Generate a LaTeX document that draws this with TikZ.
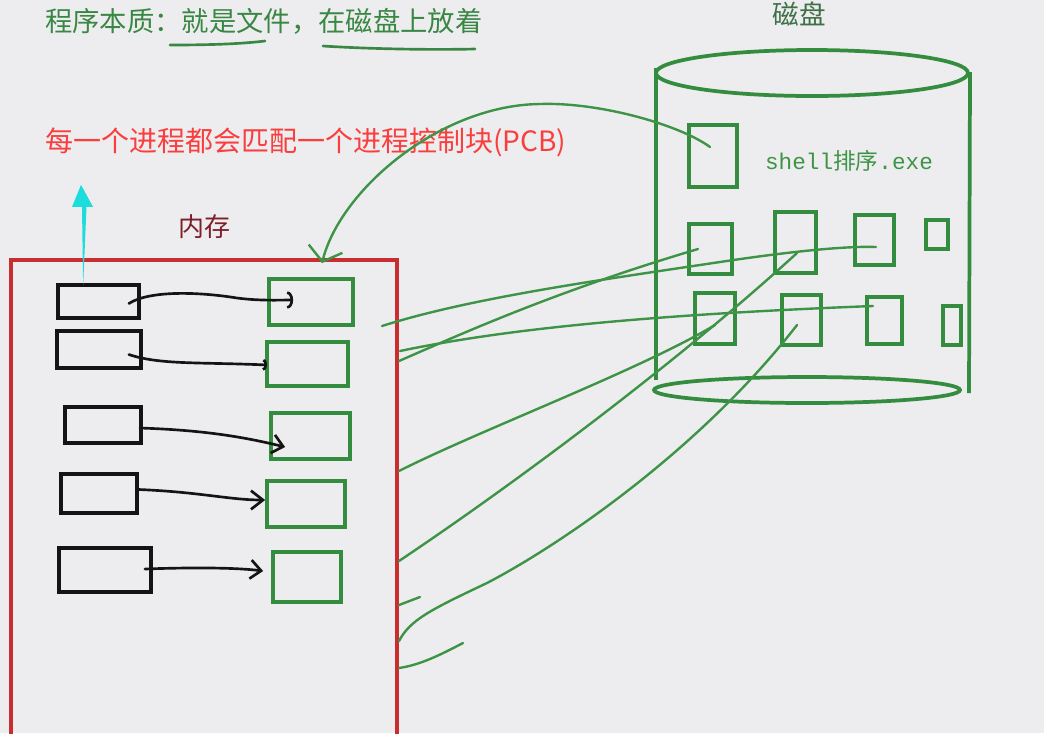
\documentclass[tikz,border=0pt]{standalone}
\usepackage{fontspec}
\newfontfamily\cjk{Noto Sans CJK SC}
\newfontfamily\monof{Liberation Mono}
\usetikzlibrary{arrows.meta,calc,fit}
\definecolor{bg}{RGB}{237,237,239}
\definecolor{tgreen}{RGB}{58,135,68}
\definecolor{dgreen}{RGB}{52,140,62}
\definecolor{lgreen}{RGB}{62,148,70}
\definecolor{diskgray}{RGB}{62,112,72}
\definecolor{pcbred}{RGB}{250,62,62}
\definecolor{memred}{RGB}{200,45,48}
\definecolor{maroon}{RGB}{125,32,42}
\definecolor{cyanarrow}{RGB}{28,220,220}
\definecolor{ink}{RGB}{20,20,20}
\begin{document}
\begin{tikzpicture}[x=0.75pt,y=-0.75pt,
  blackbox/.style={draw=ink,line width=2.8pt,inner sep=0pt},
  greenbox/.style={draw=dgreen,line width=2.8pt,inner sep=0pt},
  diskbox/.style={draw=dgreen,line width=2.8pt,inner sep=0pt},
  cyl/.style={draw=dgreen,line width=2.8pt},
  ptrline/.style={draw=ink,line width=2pt,line cap=round},
  linkline/.style={draw=lgreen,line width=1.8pt,line cap=round},
  lbl/.style={inner sep=0pt},
]
\fill[bg] (0,0) rectangle (1044,733);
\useasboundingbox (0,0) rectangle (1044,733);

% ---------- texts ----------
\node[lbl,anchor=west,text=tgreen,font=\cjk\fontsize{20.5}{22}\selectfont] (title) at (45,21) {程序本质：就是文件，在磁盘上放着};
\draw[tgreen,line width=2pt,line cap=round] (170,45) .. controls (210,45) and (240,44) .. (265,41);
\draw[tgreen,line width=2pt,line cap=round] (323,46) .. controls (370,49) and (430,50) .. (475,49);

\node[lbl,text=diskgray,font=\cjk\fontsize{20}{22}\selectfont] (disklbl) at (799,14) {磁盘};
\node[lbl,anchor=west,text=pcbred,font=\cjk\fontsize{21}{23}\selectfont] (pcb) at (45,142) {每一个进程都会匹配一个进程控制块(PCB)};
\node[lbl,text=maroon,font=\cjk\fontsize{19.5}{21}\selectfont] (memlbl) at (204,227) {内存};

% ---------- disk (cylinder) ----------
\draw[cyl] (812,73) ellipse [x radius=156,y radius=23];
\draw[cyl] (656,68) -- (656,380);
\draw[cyl] (970,72) -- (969,393);
\draw[cyl] (807,390) ellipse [x radius=153,y radius=13];

\node[diskbox,fit={(689,125)(737,187)}] (dA) {};
\node[lbl,text=lgreen,font=\fontsize{17}{19}\selectfont] (exe) at (849,161) {\monof shell\cjk 排序\monof .exe};

\node[diskbox,fit={(689,224)(732,274)}] (r2a) {};
\node[diskbox,fit={(775,212)(816,273)}] (r2b) {};
\node[diskbox,fit={(855,215)(894,265)}] (r2c) {};
\node[diskbox,fit={(926,220)(948,249)}] (r2d) {};
\node[diskbox,fit={(695,293)(735,344)}] (r3a) {};
\node[diskbox,fit={(782,295)(821,345)}] (r3b) {};
\node[diskbox,fit={(867,297)(902,344)}] (r3c) {};
\node[diskbox,fit={(943,306)(961,345)}] (r3d) {};

% ---------- memory ----------
\node[draw=memred,line width=3pt,inner sep=0pt,fit={(11,260)(397,745)}] (mem) {};

\node[blackbox,fit={(58,285)(139,318)}] (b1) {};
\node[blackbox,fit={(57,331)(141,368)}] (b2) {};
\node[blackbox,fit={(65,407)(141,443)}] (b3) {};
\node[blackbox,fit={(61,474)(137,513)}] (b4) {};
\node[blackbox,fit={(59,548)(151,592)}] (b5) {};

\node[greenbox,fit={(269,279)(353,325)}] (g1) {};
\node[greenbox,fit={(267,342)(348,386)}] (g2) {};
\node[greenbox,fit={(271,413)(350,459)}] (g3) {};
\node[greenbox,fit={(267,481)(345,527)}] (g4) {};
\node[greenbox,fit={(273,552)(341,602)}] (g5) {};

% ---------- cyan arrow (b1 -> PCB text) ----------
\coordinate (cyFoot) at ($(b1.north west)+(27,3)$);
\coordinate (cyTip) at ($(pcb.south west)+(36,28)$);
\fill[cyanarrow] (cyTip) -- ($(cyTip)+(12,22)$) -- ($(cyTip)+(5.5,22)$) -- (cyFoot)
  -- ($(cyTip)+(1,22)$) -- ($(cyTip)+(-9,22)$) -- cycle;

% ---------- black pointers (PCB -> process memory) ----------
\draw[ptrline,-{Arc Barb[length=4.5pt,width=13pt]}] ($(b1.east)+(-12,2)$)
  .. controls (150,290) and (200,292) .. (237,298) .. controls (260,301) and (280,300) .. ($(g1.west)+(26,-2)$);
\draw[ptrline,-{Arc Barb[length=3pt,width=9pt]}] ($(b2.east)+(-14,5)$)
  .. controls (160,365) and (200,362) .. ($(g2.west)+(2,1)$);
\draw[ptrline,-{Straight Barb[length=8pt,width=14pt]}] ($(b3.east)+(-3,3)$)
  .. controls (200,430) and (240,436) .. ($(g3.west)+(16,11)$);
\draw[ptrline,-{Straight Barb[length=9pt,width=14pt]}] ($(b4.east)+(0,-4)$)
  .. controls (200,492) and (230,500) .. ($(g4.west)+(0,-4)$);
\draw[ptrline,-{Straight Barb[length=8pt,width=14pt]}] ($(b5.east)+(-8,-1)$)
  .. controls (200,567) and (240,568) .. ($(g5.west)+(-8,-6)$);

% ---------- big green arrow (disk file -> memory) ----------
\draw[linkline,-{Straight Barb[length=10pt,width=26pt]}] ($(dA.center)+(-3,-9)$)
  .. controls (680,125) and (600,102) .. (540,104)
  .. controls (440,105) and (340,190) .. ($(g1.north)+(11,-14)$);

% ---------- green links (memory <-> disk blocks) ----------
\draw[linkline] ($(mem.north east)+(-17,68)$)
  .. controls (470,298) and (600,280) .. (720,262)
  .. controls (800,250) and (850,246) .. ($(r2c.center)+(1.5,7)$);
\draw[linkline] ($(mem.north east)+(0,103)$)
  .. controls (470,330) and (560,290) .. ($(r2a.center)+(-12.5,0)$);
\draw[linkline] ($(mem.north east)+(1,93)$)
  .. controls (500,330) and (640,315) .. ($(r3c.center)+(-11.5,-14.5)$);
\draw[linkline] ($(mem.north east)+(0,213)$)
  .. controls (480,430) and (640,370) .. ($(r3a.center)+(0,6.5)$);
\draw[linkline] ($(mem.north east)+(0,303)$)
  .. controls (520,480) and (680,360) .. ($(r2b.center)+(1.5,10.5)$);
\draw[linkline] ($(mem.north east)+(0,383)$)
  .. controls (410,620) and (430,610) .. (487,583)
  .. controls (560,545) and (700,450) .. ($(r3b.center)+(-4.5,5)$);
\draw[linkline] ($(mem.north east)+(0,347)$) -- (420,597);
\draw[linkline] ($(mem.north east)+(0,410)$) .. controls (420,665) and (440,655) .. (463,643);
\end{tikzpicture}
\end{document}
